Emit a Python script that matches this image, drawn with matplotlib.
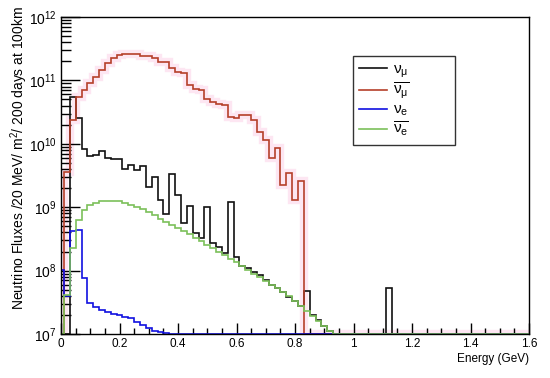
import numpy as np
import matplotlib
matplotlib.use("Agg")
import matplotlib.pyplot as plt
from matplotlib.lines import Line2D
from matplotlib.ticker import MultipleLocator, LogLocator, NullFormatter

plt.rcParams['font.family'] = ['Liberation Sans', 'DejaVu Sans']
plt.rcParams['mathtext.fontset'] = 'custom'
plt.rcParams['mathtext.rm'] = 'Liberation Sans'
plt.rcParams['mathtext.it'] = 'Liberation Sans'

# 20 MeV bins centred on 0, 0.02, ... 1.60 GeV
centers = np.arange(81) * 0.02
edges = np.append(centers - 0.01, centers[-1] + 0.01)

# log10 of the flux per bin (None = empty bin)
numu_log = [None, None, 10.74, 10.40, 9.92, 9.80, 9.82, 9.88, 9.77, 9.76,
            9.76, 9.60, 9.66, 9.58, 9.65, 9.32, 9.48, 9.12, 8.90, 9.53,
            9.19, 8.75, 9.02, 8.60, 8.51, 9.01, 8.44, 8.37, 8.27, 9.08,
            8.22, 8.07, 8.04, 7.98, 7.93, 7.85, 7.78, 7.72, 7.66, 7.59,
            7.52, 7.44, 7.68, 7.30, 7.22, 7.13, 7.05, None, None, None,
            None, None, None, None, None, None, 7.73]
numubar_log = [None, 9.56, 10.38, 10.74, 10.85, 10.96, 11.05, 11.16, 11.27, 11.35,
               11.40, 11.42, 11.42, 11.42, 11.38, 11.38, 11.35, 11.29, 11.29, 11.20,
               11.13, 11.12, 10.93, 10.86, 10.85, 10.71, 10.66, 10.63, 10.61, 10.42,
               10.41, 10.45, 10.45, 10.38, 10.19, 10.06, 9.78, 9.93, 9.35, 9.54,
               9.11, 9.42]
nue_log = [8.01, 7.60, 8.62, 8.64, 7.88, 7.49, 7.43, 7.38, 7.35, 7.32,
           7.30, 7.27, 7.25, 7.19, 7.14, 7.09, 7.04, 7.03, 7.02]
nuebar_log = [None, 7.62, 8.35, 8.80, 8.96, 9.03, 9.07, 9.09, 9.10, 9.10,
              9.09, 9.07, 9.04, 9.01, 8.97, 8.92, 8.87, 8.82, 8.77, 8.72,
              8.67, 8.62, 8.57, 8.52, 8.46, 8.41, 8.35, 8.30, 8.24, 8.18,
              8.13, 8.07, 8.01, 7.95, 7.90, 7.84, 7.78, 7.72, 7.66, 7.60,
              7.52, 7.44, 7.36, 7.28, 7.20, 7.12, 7.05]

ymin, ymax = 1e7, 1e12


def to_flux(logs):
    v = np.zeros(len(centers))
    for i, l in enumerate(logs):
        if l is not None:
            v[i] = 10 ** l
    return np.maximum(v, ymin)


fig = plt.figure(figsize=(5.5, 3.78), dpi=100)
ax = fig.add_axes([0.111, 0.1164, 0.851, 0.8386])

black = '#111111'
red = '#b5402a'
blue = '#1010e0'
green = '#7cc05a'
ax.stairs(to_flux(numubar_log), edges, baseline=ymin, color='#fde6f2', lw=6, zorder=1.5)
ax.stairs(to_flux(numu_log), edges, baseline=ymin, color=black, lw=1.2, zorder=2)
ax.stairs(to_flux(numubar_log), edges, baseline=ymin, color=red, lw=1.2, zorder=2.1)
ax.stairs(to_flux(nue_log), edges, baseline=ymin, color=blue, lw=1.2, zorder=2.2)
ax.stairs(to_flux(nuebar_log), edges, baseline=ymin, color=green, lw=1.2, zorder=2.3)

ax.set_yscale('log')
ax.set_xlim(0, 1.6)
ax.set_ylim(ymin, ymax)

ax.set_xticks([0, 0.2, 0.4, 0.6, 0.8, 1.0, 1.2, 1.4, 1.6])
ax.set_xticklabels(['0', '0.2', '0.4', '0.6', '0.8', '1', '1.2', '1.4', '1.6'])
ax.xaxis.set_minor_locator(MultipleLocator(0.05))
ax.yaxis.set_major_locator(LogLocator(base=10, numticks=10))
ax.yaxis.set_minor_locator(LogLocator(base=10, subs=np.arange(2, 10), numticks=20))
ax.yaxis.set_minor_formatter(NullFormatter())

ax.tick_params(which='both', direction='in', top=False, right=False, colors='black')
ax.tick_params(axis='x', which='major', length=8, width=1, labelsize=8.5, pad=3)
ax.tick_params(axis='x', which='minor', length=4, width=1)
ax.tick_params(axis='y', which='major', length=14, width=1, labelsize=10, pad=3)
ax.tick_params(axis='y', which='minor', length=7, width=1)
for s in ax.spines.values():
    s.set_linewidth(1)

ax.set_xlabel('Energy (GeV)', fontsize=8.5, loc='right', labelpad=2)
ax.set_ylabel('Neutrino Fluxes /20 MeV/ m$^2$/ 200 days at 100km', fontsize=10,
              loc='top')
ax.yaxis.set_label_coords(-0.066, 1.035)

handles = [Line2D([], [], color=black, lw=1.2),
           Line2D([], [], color=red, lw=1.2),
           Line2D([], [], color=blue, lw=1.2),
           Line2D([], [], color=green, lw=1.2)]
labels = [r'$\nu_{\mu}$', r'$\overline{\nu_{\mu}}$', r'$\nu_{e}$', r'$\overline{\nu_{e}}$']
leg = fig.legend(handles, labels, loc='upper left', mode='expand',
                 bbox_to_anchor=(353 / 550, 1 - 56 / 378, 102 / 550, 0),
                 fontsize=11, frameon=True, fancybox=False, edgecolor='black',
                 handlelength=1.8, handletextpad=0.4, labelspacing=0.1,
                 borderpad=0.4, borderaxespad=0)
leg.get_frame().set_linewidth(1)
leg.get_frame().set_boxstyle('square', pad=0)

fig.savefig('out.png', dpi=100)
